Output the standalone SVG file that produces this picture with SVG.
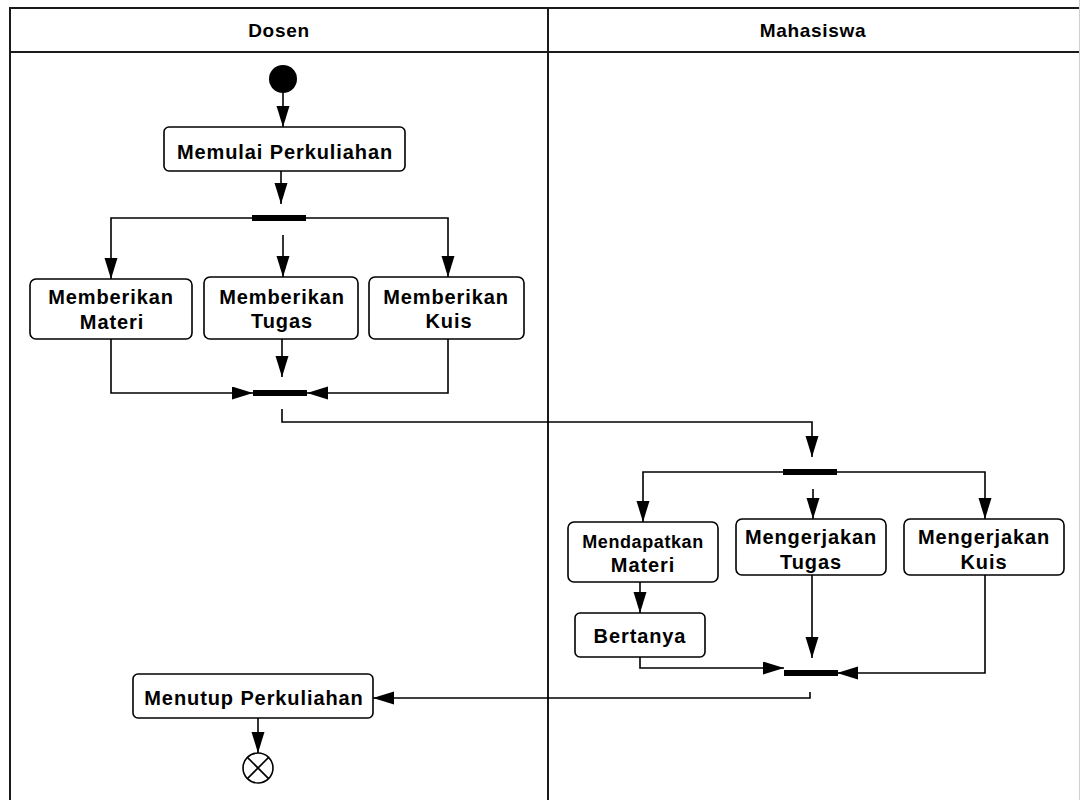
<svg xmlns="http://www.w3.org/2000/svg" width="1080" height="800" viewBox="0 0 1080 800">
<style>
.frame{fill:none;stroke:#1a1a1a;stroke-width:2}
.box{fill:#fff;stroke:#000;stroke-width:1.6}
.bar{fill:#000}
.ln{fill:none;stroke:#000;stroke-width:1.6}
.t{font-family:"Liberation Sans",Arial,sans-serif;font-weight:bold;font-size:20px;letter-spacing:0.9px;text-anchor:middle;fill:#000}
.h{font-size:19px;letter-spacing:0.7px}
.s{font-size:18px;letter-spacing:0.6px}
</style>
<defs>
<marker id="ah" markerUnits="userSpaceOnUse" markerWidth="22" markerHeight="14" refX="21" refY="6.5" orient="auto">
<path d="M0,0 L21,6.5 L0,13 z" fill="#000"/>
</marker>
</defs>
<rect width="1080" height="800" fill="#fff"/>
<g id="swimlanes">
<line class="frame" x1="9" y1="8" x2="1080" y2="8"/>
<line class="frame" x1="9" y1="52" x2="1080" y2="52"/>
<line class="frame" x1="10" y1="7" x2="10" y2="800"/>
<line class="frame" x1="548" y1="7" x2="548" y2="800"/>
<line x1="1079.5" y1="0" x2="1079.5" y2="800" stroke="#d0d0d0" stroke-width="1"/>
<text class="t h" x="279" y="37">Dosen</text>
<text class="t h" x="813" y="37">Mahasiswa</text>
</g>
<g id="connectors">
<line class="ln" x1="283" y1="93" x2="283" y2="127" marker-end="url(#ah)"/>
<line class="ln" x1="281" y1="171" x2="281" y2="204" marker-end="url(#ah)"/>
<polyline class="ln" points="252,218 111,218 111,279" marker-end="url(#ah)"/>
<polyline class="ln" points="306,218 448,218 448,277" marker-end="url(#ah)"/>
<line class="ln" x1="283" y1="235" x2="283" y2="277" marker-end="url(#ah)"/>
<line class="ln" x1="282" y1="339" x2="282" y2="377" marker-end="url(#ah)"/>
<polyline class="ln" points="111,339 111,393 253,393" marker-end="url(#ah)"/>
<polyline class="ln" points="448,339 448,393 307,393" marker-end="url(#ah)"/>
<polyline class="ln" points="282,409 282,422 812,422 812,457" marker-end="url(#ah)"/>
<polyline class="ln" points="783,472 643,472 643,522" marker-end="url(#ah)"/>
<polyline class="ln" points="837,472 985,472 985,519" marker-end="url(#ah)"/>
<line class="ln" x1="813" y1="489" x2="813" y2="519" marker-end="url(#ah)"/>
<line class="ln" x1="640" y1="582" x2="640" y2="613" marker-end="url(#ah)"/>
<polyline class="ln" points="640,657 640,668 784,668" marker-end="url(#ah)"/>
<line class="ln" x1="812" y1="575" x2="812" y2="658" marker-end="url(#ah)"/>
<polyline class="ln" points="985,575 985,673 837,673" marker-end="url(#ah)"/>
<polyline class="ln" points="810,692 810,698 373,698" marker-end="url(#ah)"/>
<line class="ln" x1="258" y1="718" x2="258" y2="753" marker-end="url(#ah)"/>
</g>
<g id="start"><circle cx="283" cy="79" r="14" fill="#000"/></g>
<g id="memulai">
<rect class="box" x="164" y="127" width="241" height="44" rx="5"/>
<text class="t" x="285" y="159">Memulai Perkuliahan</text>
</g>
<g id="fork1"><rect class="bar" x="252" y="215" width="54" height="6"/></g>
<g id="memberikan-materi">
<rect class="box" x="30" y="279" width="162" height="60" rx="6"/>
<text class="t" x="111" y="304">Memberikan</text>
<text class="t" x="112" y="329">Materi</text>
</g>
<g id="memberikan-tugas">
<rect class="box" x="204" y="277" width="154" height="62" rx="6"/>
<text class="t" x="282" y="304">Memberikan</text>
<text class="t" x="282" y="328">Tugas</text>
</g>
<g id="memberikan-kuis">
<rect class="box" x="369" y="277" width="155" height="62" rx="6"/>
<text class="t" x="446" y="304">Memberikan</text>
<text class="t" x="449" y="328">Kuis</text>
</g>
<g id="join1"><rect class="bar" x="253" y="390" width="54" height="6"/></g>
<g id="fork2"><rect class="bar" x="783" y="469" width="54" height="6"/></g>
<g id="mendapatkan-materi">
<rect class="box" x="568" y="522" width="150" height="60" rx="6"/>
<text class="t s" x="643" y="548">Mendapatkan</text>
<text class="t" x="643" y="572">Materi</text>
</g>
<g id="mengerjakan-tugas">
<rect class="box" x="736" y="519" width="150" height="56" rx="6"/>
<text class="t" x="811" y="544">Mengerjakan</text>
<text class="t" x="811" y="569">Tugas</text>
</g>
<g id="mengerjakan-kuis">
<rect class="box" x="904" y="519" width="160" height="56" rx="6"/>
<text class="t" x="984" y="544">Mengerjakan</text>
<text class="t" x="984" y="569">Kuis</text>
</g>
<g id="bertanya">
<rect class="box" x="575" y="613" width="130" height="44" rx="5"/>
<text class="t" x="640" y="643">Bertanya</text>
</g>
<g id="join2"><rect class="bar" x="784" y="670" width="54" height="6"/></g>
<g id="menutup">
<rect class="box" x="133" y="674" width="240" height="44" rx="5"/>
<text class="t" x="254" y="705">Menutup Perkuliahan</text>
</g>
<g id="end">
<circle cx="258" cy="768" r="15" fill="#fff" stroke="#000" stroke-width="1.6"/>
<line class="ln" x1="247.4" y1="757.4" x2="268.6" y2="778.6"/>
<line class="ln" x1="268.6" y1="757.4" x2="247.4" y2="778.6"/>
</g>
</svg>
